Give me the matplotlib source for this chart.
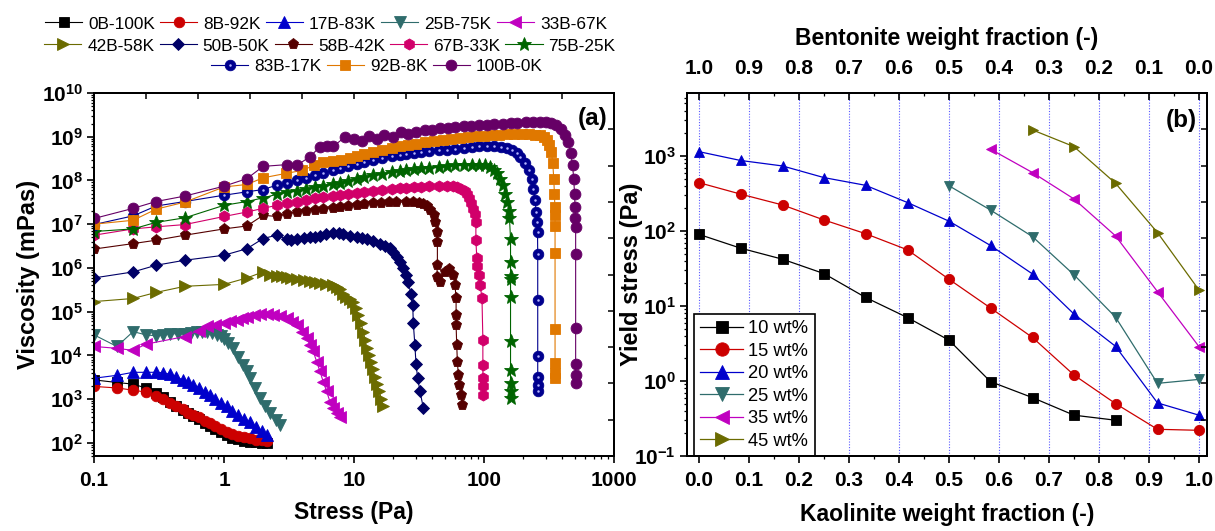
import numpy as np
import matplotlib
matplotlib.use('Agg')
import matplotlib.pyplot as plt
from matplotlib.ticker import (FixedLocator, FuncFormatter, LogLocator, NullFormatter,
                               MultipleLocator, NullLocator)
from matplotlib.legend_handler import HandlerTuple

plt.rcParams['font.family'] = ['Liberation Sans', 'DejaVu Sans']
plt.rcParams['font.weight'] = 'bold'
plt.rcParams['axes.labelweight'] = 'bold'
plt.rcParams['mathtext.fontset'] = 'custom'
plt.rcParams['mathtext.rm'] = 'Liberation Sans'
plt.rcParams['mathtext.bf'] = 'Liberation Sans:bold'
plt.rcParams['mathtext.it'] = 'Liberation Sans:italic'

# ---------------- Panel (a) data: viscosity (mPas) vs stress (Pa) ----------------
names_a = ['0B-100K', '8B-92K', '17B-83K', '25B-75K', '33B-67K',
           '42B-58K', '50B-50K', '58B-42K', '67B-33K', '75B-25K',
           '83B-17K', '92B-8K', '100B-0K']

stress_low = [0.1, 0.15, 0.2, 0.25, 0.3, 0.34, 0.385, 0.43, 0.48, 0.53,
              0.58, 0.64, 0.71, 0.78, 0.86, 0.95, 1.05, 1.16, 1.28, 1.42,
              1.58, 1.76, 1.95, 2.13]
visc_0B = [2750, 2400, 2200, 1800, 1400, 1120, 870, 710, 575, 480,
           410, 350, 280, 240, 205, 178, 150, 132, 120, 112,
           105, 102, 100, 98]
visc_8B = [1950, 1800, 1600, 1450, 1150, 980, 810, 690, 590, 490,
           435, 380, 316, 280, 245, 210, 180, 158, 145, 135,
           126, 118, 115, 112]
visc_17B = [3000, 3500, 4100, 4100, 4100, 4000, 3700, 3250, 2750, 2400,
            2150, 1780, 1480, 1230, 1000, 800, 680, 525, 425, 350,
            295, 235, 185, 150]

stress_25B = [0.1, 0.15, 0.2, 0.25, 0.3, 0.34, 0.385, 0.44, 0.5, 0.56,
              0.62, 0.68, 0.74, 0.81, 0.88, 0.94, 1.0, 1.08, 1.18, 1.29,
              1.41, 1.5, 1.58, 1.73, 1.89, 2.07, 2.27, 2.49, 2.7]
visc_25B = [29500, 16000, 35000, 29500, 28000, 30000, 31600, 31000, 31600, 33000,
            34000, 34000, 34000, 32000, 30000, 27500, 24000, 19000, 14500, 9300,
            6000, 4300, 3000, 1800, 1050, 680, 480, 340, 260]

stress_33B = [0.1, 0.15, 0.2, 0.25, 0.5, 0.64, 0.74, 0.86, 1.0, 1.12,
              1.25, 1.38, 1.5, 1.7, 1.89, 2.13, 2.39, 2.69, 3.03, 3.35,
              3.62, 3.96, 4.33, 4.6, 4.86, 5.16, 5.47, 5.8, 6.16, 6.53,
              6.93, 7.35, 7.8]
visc_33B = [16000, 14500, 13000, 18000, 27000, 37000, 46000, 50000, 54000, 60000,
            65000, 70000, 76000, 82000, 87000, 87000, 83000, 79000, 71000, 59000,
            49000, 35000, 25000, 17000, 12300, 7200, 4300, 2500, 1500, 870,
            620, 480, 400]

stress_42B = [0.1, 0.2, 0.3, 0.5, 1.0, 1.5, 2.0, 2.27, 2.54, 2.8,
              3.03, 3.3, 3.62, 4.1, 4.59, 5.0, 5.47, 6.1, 6.93, 7.4,
              7.8, 8.28, 8.75, 9.3, 9.8, 10.3, 10.8, 11.3, 11.8, 12.2,
              12.5, 13.0, 13.4, 14.0, 14.5, 15.1, 15.7, 16.2, 16.8]
visc_42B = [170000, 200000, 275000, 380000, 420000, 590000, 810000, 700000, 660000, 650000,
            630000, 600000, 550000, 530000, 500000, 480000, 450000, 430000, 410000, 370000,
            330000, 260000, 220000, 190000, 170000, 120000, 83000, 55000, 35000, 22000,
            14500, 10000, 7200, 4800, 3200, 2200, 1500, 1000, 680]

stress_50B = [0.1, 0.2, 0.3, 0.5, 1.0, 1.5, 2.0, 2.54, 3.03, 3.3,
              3.62, 4.1, 4.59, 5.0, 5.47, 6.1, 6.93, 7.6, 8.28, 9.3,
              10.5, 11.5, 12.5, 14.0, 15.8, 17.3, 18.9, 20.0, 21.3, 22.6,
              23.9, 25.0, 26.2, 27.3, 28.3, 28.6, 29.4, 30.0, 30.9, 32.2,
              34.1]
visc_50B = [5.9e5, 8.1e5, 1.15e6, 1.5e6, 1.95e6, 2.75e6, 4.7e6, 5.6e6, 4.6e6, 4.4e6,
            4.5e6, 4.8e6, 5.0e6, 5.2e6, 5.5e6, 6.0e6, 6.3e6, 6.3e6, 6.0e6, 5.5e6,
            5.1e6, 4.9e6, 4.7e6, 4.2e6, 3.6e6, 3.2e6, 2.8e6, 2.3e6, 1.8e6, 1.35e6,
            9.8e5, 7.0e5, 4.8e5, 2.6e5, 1.4e5, 5.4e4, 1.7e4, 6.3e3, 3.0e3, 1.5e3,
            640]

stress_58B = [0.1, 0.2, 0.3, 0.5, 1.0, 1.5, 2.0, 2.54, 3.03, 3.62,
              4.3, 5.0, 5.8, 6.9, 7.8, 9.0, 10.5, 12.0, 14.0, 16.0,
              18.5, 21.0, 25.3, 28.5, 31.5, 34.0, 36.5, 38.6, 40.9, 42.0,
              43.3, 43.8, 43.8, 43.3, 45.9, 50.2, 54.1, 58.0, 59.8, 61.0,
              61.0, 61.0, 61.7, 62.4, 63.5, 64.6, 66.2, 68.1]
visc_58B = [2.7e6, 3.6e6, 4.3e6, 5.6e6, 7.8e6, 9.1e6, 1.6e7, 1.5e7, 1.7e7, 1.9e7,
            2.0e7, 2.1e7, 2.2e7, 2.3e7, 2.5e7, 2.6e7, 2.8e7, 2.9e7, 3.0e7, 3.1e7,
            3.2e7, 3.2e7, 3.2e7, 3.15e7, 3.05e7, 2.95e7, 2.6e7, 2.1e7, 1.6e7, 1.15e7,
            6.8e6, 4.0e6, 1.15e6, 6.3e5, 4.8e5, 8.1e5, 9.3e5, 6.9e5, 4.1e5, 2.0e5,
            8.3e4, 4.9e4, 1.7e4, 7.2e3, 3.5e3, 2.1e3, 1.26e3, 740]

stress_67B = [0.1, 0.2, 0.3, 0.5, 1.0, 1.5, 2.0, 2.54, 3.03, 3.62,
              4.3, 5.0, 5.8, 6.9, 7.8, 9.0, 10.5, 12.0, 14.0, 16.5,
              19.5, 22.5, 25.3, 29.0, 33.0, 38.0, 45.0, 52.0, 58.0, 62.0,
              67.0, 71.0, 74.0, 77.0, 80.0, 83.0, 85.0, 86.6, 86.6, 88.0,
              88.0, 90.9, 93.6, 96.5, 98.0, 98.0, 98.0, 98.0, 98.0]
visc_67B = [5.6e6, 7.8e6, 8.7e6, 9.8e6, 1.5e7, 1.9e7, 2.3e7, 2.7e7, 3.0e7, 3.3e7,
            3.6e7, 3.9e7, 4.2e7, 4.4e7, 4.6e7, 4.9e7, 5.2e7, 5.4e7, 5.6e7, 6.0e7,
            6.3e7, 6.6e7, 6.7e7, 7.0e7, 7.2e7, 7.4e7, 7.6e7, 7.6e7, 7.4e7, 7.1e7,
            6.5e7, 5.7e7, 5.0e7, 4.0e7, 3.0e7, 2.2e7, 1.7e7, 1.1e7, 4.3e6, 1.7e6,
            1.1e6, 6.9e5, 4.0e5, 2.0e5, 2.3e4, 6.0e3, 3.0e3, 1.95e3, 1.26e3]

stress_75B = [0.1, 0.2, 0.3, 0.5, 1.0, 1.5, 2.0, 2.54, 3.03, 3.62,
              4.3, 5.0, 5.8, 6.9, 7.8, 9.0, 10.5, 12.0, 14.0, 16.5,
              19.5, 22.5, 25.3, 29.0, 33.0, 38.0, 45.0, 52.0, 60.0, 70.0,
              81.0, 92.0, 102.0, 112.0, 120.0, 125.0, 133.0, 140.0, 146.0, 151.0,
              155.0, 157.0, 160.0, 160.0, 160.0, 160.0, 160.0, 160.0, 160.0, 160.0,
              160.0, 160.0]
visc_75B = [6.8e6, 7.8e6, 1.1e7, 1.4e7, 2.7e7, 3.3e7, 4.0e7, 4.8e7, 5.5e7, 5.8e7,
            6.3e7, 7.0e7, 7.6e7, 8.3e7, 8.9e7, 9.8e7, 1.1e8, 1.2e8, 1.3e8, 1.4e8,
            1.55e8, 1.65e8, 1.7e8, 1.8e8, 1.9e8, 1.95e8, 2.0e8, 2.1e8, 2.2e8, 2.25e8,
            2.3e8, 2.3e8, 2.25e8, 2.0e8, 1.7e8, 1.45e8, 1.1e8, 7.8e7, 5.0e7, 3.2e7,
            2.0e7, 1.35e7, 4.7e6, 1.4e6, 6.6e5, 5.5e5, 2.2e5, 2.1e4, 4.7e3, 2.3e3,
            1.5e3, 1.05e3]

stress_83B = [0.1, 0.2, 0.3, 0.5, 1.0, 1.5, 2.0, 2.54, 3.03, 3.62,
              4.3, 5.0, 5.8, 6.9, 7.8, 9.0, 10.5, 12.0, 14.0, 16.5,
              19.5, 22.5, 25.3, 29.0, 33.0, 38.0, 45.0, 52.0, 60.0, 70.0,
              81.0, 92.0, 105.0, 120.0, 135.0, 150.0, 164.0, 178.0, 190.0, 205.0,
              220.0, 232.0, 240.0, 247.0, 252.0, 256.0, 258.0, 259.0, 259.0, 259.0,
              259.0, 259.0, 259.0]
visc_83B = [9.8e6, 1.55e7, 2.6e7, 3.3e7, 4.6e7, 5.5e7, 6.2e7, 7.8e7, 8.7e7, 1.0e8,
            1.15e8, 1.3e8, 1.5e8, 1.7e8, 1.9e8, 2.1e8, 2.4e8, 2.7e8, 3.0e8, 3.3e8,
            3.6e8, 3.9e8, 4.1e8, 4.3e8, 4.5e8, 4.7e8, 4.9e8, 5.1e8, 5.3e8, 5.6e8,
            5.9e8, 6.0e8, 6.0e8, 6.0e8, 5.9e8, 5.6e8, 4.9e8, 4.2e8, 3.5e8, 2.5e8,
            1.7e8, 1.1e8, 6.5e7, 3.5e7, 1.9e7, 1.1e7, 6.6e6, 2.1e6, 1.8e5, 9.8e3,
            3.2e3, 2.1e3, 1.5e3]

stress_92B = [0.1, 0.2, 0.3, 0.5, 1.0, 1.5, 2.0, 3.0, 4.0, 4.9,
              5.8, 6.9, 8.0, 9.3, 10.5, 12.0, 14.0, 16.5, 19.5, 22.5,
              26.0, 30.0, 35.0, 41.0, 48.0, 56.0, 65.0, 75.0, 87.0, 100.0,
              115.0, 130.0, 150.0, 170.0, 195.0, 220.0, 245.0, 270.0, 290.0, 305.0,
              318.0, 330.0, 338.0, 344.0, 348.0, 351.0, 352.0, 352.0, 352.0, 352.0,
              352.0, 352.0, 352.0]
visc_92B = [1.0e7, 1.23e7, 2.2e7, 3.2e7, 7.1e7, 8.1e7, 1.15e8, 1.45e8, 1.7e8, 2.2e8,
            2.6e8, 2.8e8, 3.0e8, 3.3e8, 3.6e8, 4.0e8, 4.5e8, 5.0e8, 5.5e8, 6.0e8,
            6.5e8, 7.0e8, 7.5e8, 8.0e8, 8.5e8, 9.0e8, 9.5e8, 1.0e9, 1.03e9, 1.06e9,
            1.1e9, 1.12e9, 1.15e9, 1.15e9, 1.15e9, 1.15e9, 1.12e9, 1.08e9, 1.0e9, 8.5e8,
            6.5e8, 4.5e8, 2.5e8, 1.1e8, 5.0e7, 2.5e7, 1.6e7, 9.1e6, 2.2e6, 4.0e4,
            6.6e3, 4.0e3, 3.1e3]

stress_100B = [0.1, 0.2, 0.3, 0.5, 1.0, 1.5, 2.0, 3.03, 3.62, 4.59,
               5.47, 6.2, 6.93, 8.5, 10.0, 11.5, 13.0, 15.0, 17.0, 20.0,
               23.0, 26.0, 30.0, 35.0, 40.0, 46.0, 53.0, 60.0, 70.0, 80.0,
               92.0, 105.0, 120.0, 140.0, 160.0, 180.0, 210.0, 240.0, 270.0, 300.0,
               330.0, 360.0, 390.0, 420.0, 445.0, 465.0, 480.0, 490.0, 497.0, 502.0,
               505.0, 507.0, 507.0, 507.0, 507.0, 507.0, 507.0]
visc_100B = [1.35e7, 2.3e7, 3.3e7, 4.4e7, 7.4e7, 1.1e8, 2.1e8, 2.3e8, 2.2e8, 3.5e8,
             5.9e8, 6.0e8, 6.0e8, 9.8e8, 8.9e8, 7.9e8, 1.05e9, 8.9e8, 1.1e9, 1.0e9,
             1.26e9, 1.17e9, 1.3e9, 1.4e9, 1.4e9, 1.6e9, 1.6e9, 1.65e9, 1.75e9, 1.8e9,
             1.85e9, 1.9e9, 1.95e9, 2.0e9, 2.05e9, 2.1e9, 2.15e9, 2.15e9, 2.2e9, 2.15e9,
             2.1e9, 1.85e9, 1.5e9, 1.1e9, 7.5e8, 4.2e8, 2.2e8, 1.1e8, 5.0e7, 2.5e7,
             1.4e7, 8.7e6, 2.1e6, 4.2e4, 6.3e3, 3.5e3, 2.3e3]

# ---------------- Panel (b) data: yield stress (Pa) vs kaolinite fraction ----------------
kaolinite = [0.0, 0.083, 0.167, 0.25, 0.333, 0.417, 0.5, 0.583, 0.667, 0.75, 0.833, 0.917, 1.0]
names_b = ['10 wt%', '15 wt%', '20 wt%', '25 wt%', '35 wt%', '45 wt%']
yield_10 = [90, 59, 42, 27, 13, 7.0, 3.5, 0.98, 0.6, 0.35, 0.30]
yield_15 = [440, 310, 222, 140, 92, 56, 22.7, 9.4, 3.8, 1.2, 0.50, 0.227, 0.22]
yield_20 = [1140, 870, 735, 514, 406, 239, 135, 64, 26.7, 7.8, 2.9, 0.51, 0.35]
yield_25 = [400, 190, 84, 26, 7.1, 0.93, 1.05]
yield_35 = [1230, 600, 267, 86, 15.5, 2.87]
yield_45 = [2220, 1330, 432, 95, 16.3]
start_b = [0, 0, 0, 6, 7, 8]

bentonite_ticks = [0.0, 0.1, 0.2, 0.3, 0.4, 0.5, 0.6, 0.7, 0.8, 0.9, 1.0]

# ---------------- styles ----------------
col_a = ['#000000', '#cc0000', '#0000cc', '#2f6c6c', '#c000c0',
         '#6b6b00', '#000066', '#550000', '#d1006a', '#006400',
         '#00008e', '#e07800', '#660066']
mk_a = ['s', 'o', '^', 'v', '<', '>', 'D', 'p', 'h', '*', 'o', 's', 'o']
ms_a = [6.8, 7.6, 8.0, 8.0, 8.0, 8.0, 6.2, 8.0, 8.0, 10.5, 7.6, 6.8, 7.8]
col_b = ['#000000', '#cc0000', '#0000cc', '#2f6c6c', '#c000c0', '#6b6b00']
mk_b = ['s', 'o', '^', 'v', '<', '>']
ms_b = [6.8, 7.4, 7.8, 7.8, 7.8, 7.8]

stress_a = [stress_low, stress_low, stress_low, stress_25B, stress_33B, stress_42B,
            stress_50B, stress_58B, stress_67B, stress_75B, stress_83B, stress_92B, stress_100B]
visc_a = [visc_0B, visc_8B, visc_17B, visc_25B, visc_33B, visc_42B, visc_50B,
          visc_58B, visc_67B, visc_75B, visc_83B, visc_92B, visc_100B]
yield_b = [yield_10, yield_15, yield_20, yield_25, yield_35, yield_45]

W, H = 1215, 531
fig = plt.figure(figsize=(W / 100, H / 100), dpi=100)
fig.patch.set_facecolor('white')
axa = fig.add_axes([94 / W, 1 - 456 / H, 520 / W, 363 / H])
axb = fig.add_axes([687 / W, 1 - 456 / H, 520 / W, 363 / H])

SPW = 1.4
TICKFS = 15


def pow_fmt(v, p):
    e = int(round(np.log10(v)))
    return r'$\mathbf{10^{%d}}$' % e


# ---------------- panel (a) ----------------
handles_a = []
for i in range(13):
    ln, = axa.plot(stress_a[i], visc_a[i], color=col_a[i], marker=mk_a[i], ms=ms_a[i],
                   mfc=col_a[i], mec=col_a[i], mew=0.6, lw=0.8)
    if names_a[i] == '83B-17K':
        hl, = axa.plot(stress_a[i], visc_a[i], ls='none', marker='o', ms=1.8,
                       mfc='#b4b4ff', mec='none')
        handles_a.append((ln, hl))
    else:
        handles_a.append(ln)

axa.set_xscale('log')
axa.set_yscale('log')
axa.set_xlim(0.1, 1000)
axa.set_ylim(50, 1e10)
axa.xaxis.set_major_locator(FixedLocator([0.1, 1, 10, 100, 1000]))
axa.xaxis.set_major_formatter(FuncFormatter(lambda v, p: {0.1: '0.1', 1: '1', 10: '10', 100: '100', 1000: '1000'}.get(round(v, 1), '')))
axa.xaxis.set_minor_locator(LogLocator(base=10, subs=np.arange(2, 10), numticks=100))
axa.xaxis.set_minor_formatter(NullFormatter())
axa.yaxis.set_major_locator(FixedLocator([10.0 ** k for k in range(2, 11)]))
axa.yaxis.set_major_formatter(FuncFormatter(pow_fmt))
axa.yaxis.set_minor_locator(LogLocator(base=10, subs=np.arange(2, 10), numticks=100))
axa.yaxis.set_minor_formatter(NullFormatter())
axa.tick_params(which='major', direction='out', length=5, width=1.2, labelsize=TICKFS,
                top=False, right=False)
axa.tick_params(which='minor', direction='out', length=2.5, width=0.9, top=False, right=False)
axa.tick_params(axis='x', which='major', pad=6)
axa.tick_params(axis='y', which='major', pad=3)
for s in axa.spines.values():
    s.set_linewidth(SPW)
axa.set_xlabel('Stress (Pa)', fontsize=16.5, fontweight='bold')
axa.xaxis.set_label_coords(0.5, -(501 - 456) / 363)
axa.set_ylabel('Viscosity (mPas)', fontsize=17, fontweight='bold')
axa.yaxis.set_label_coords(-(94 - 40) / 520, 0.5)
axa.text(0.988, 0.962, '(a)', transform=axa.transAxes, ha='right', va='top',
         fontsize=17.5, fontweight='bold')

ta = axa.twiny()
ta.set_xlim(0, 10)
ta.xaxis.set_major_locator(FixedLocator(list(range(11))))
ta.xaxis.set_minor_locator(NullLocator())
ta.tick_params(axis='x', direction='in', length=4, width=1.1, labeltop=False)
ra = axa.twinx()
ra.set_ylim(0, 10)
ra.yaxis.set_major_locator(FixedLocator(list(range(11))))
ra.yaxis.set_minor_locator(NullLocator())
ra.tick_params(axis='y', direction='in', length=4, width=1.1, labelright=False)
for t in (ta, ra):
    for s in t.spines.values():
        s.set_linewidth(SPW)

# legend rows above panel (a)
rows = [(range(0, 5), 326, 24), (range(5, 10), 330, 46), (range(10, 13), 377, 66)]
for idx, cx, cy in rows:
    hs = [handles_a[i] for i in idx]
    ls = [names_a[i] for i in idx]
    fig.legend(hs, ls, loc='center', bbox_to_anchor=(cx / W, 1 - cy / H), ncol=len(hs),
               frameon=False, prop={'size': 12.4, 'weight': 'normal'}, handlelength=2.15,
               handletextpad=0.35, columnspacing=0.3, borderpad=0, borderaxespad=0,
               markerscale=1.0, handler_map={tuple: HandlerTuple(ndivide=1, pad=0)})

# ---------------- panel (b) ----------------
handles_b = []
for i in range(6):
    xs = kaolinite[start_b[i]:start_b[i] + len(yield_b[i])]
    ln, = axb.plot(xs, yield_b[i], color=col_b[i], marker=mk_b[i], ms=ms_b[i],
                   mfc=col_b[i], mec=col_b[i], mew=0.6, lw=0.9, zorder=3)
    handles_b.append(ln)

axb.set_yscale('log')
axb.set_xlim(-0.024, 1.016)
axb.set_ylim(0.1, 6900)
axb.xaxis.set_major_locator(MultipleLocator(0.1))
axb.xaxis.set_minor_locator(MultipleLocator(0.05))
axb.xaxis.set_major_formatter(FuncFormatter(lambda v, p: '%.1f' % abs(v)))
axb.yaxis.set_major_locator(FixedLocator([0.1, 1, 10, 100, 1000]))
axb.yaxis.set_major_formatter(FuncFormatter(pow_fmt))
axb.yaxis.set_minor_locator(LogLocator(base=10, subs=np.arange(2, 10), numticks=100))
axb.yaxis.set_minor_formatter(NullFormatter())
axb.tick_params(which='major', direction='out', length=5, width=1.2, labelsize=TICKFS,
                top=False, right=False)
axb.tick_params(which='minor', direction='out', length=2.5, width=0.9, top=False, right=False)
axb.tick_params(axis='x', which='major', pad=6)
axb.tick_params(axis='y', which='major', pad=3)
axb.grid(True, axis='x', which='major', color='#5a5aff', ls=(0, (1, 1.5)), lw=0.8)
axb.set_axisbelow(True)
for s in axb.spines.values():
    s.set_linewidth(SPW)
axb.set_xlabel('Kaolinite weight fraction (-)', fontsize=16.5, fontweight='bold')
axb.xaxis.set_label_coords(0.5, -(503 - 456) / 363)
axb.set_ylabel('Yield stress (Pa)', fontsize=17, fontweight='bold')
axb.yaxis.set_label_coords(-(687 - 643) / 520, 0.5)
axb.text(0.981, 0.955, '(b)', transform=axb.transAxes, ha='right', va='top',
         fontsize=17.5, fontweight='bold')

tb = axb.twiny()
tb.set_xlim(1.024, -0.016)
tb.xaxis.set_major_locator(FixedLocator(bentonite_ticks))
tb.xaxis.set_minor_locator(MultipleLocator(0.05))
tb.xaxis.set_major_formatter(FuncFormatter(lambda v, p: '%.1f' % abs(v)))
tb.tick_params(axis='x', which='major', direction='in', length=5, width=1.2,
               labelsize=TICKFS, pad=11)
tb.tick_params(axis='x', which='minor', direction='in', length=2.5, width=0.9)
tb.set_xlabel('Bentonite weight fraction (-)', fontsize=16.5, fontweight='bold', labelpad=10)
rb = axb.twinx()
rb.set_ylim(0, 10)
rb.yaxis.set_major_locator(FixedLocator(list(range(11))))
rb.yaxis.set_minor_locator(NullLocator())
rb.tick_params(axis='y', direction='in', length=4, width=1.1, labelright=False)
for t in (tb, rb):
    for s in t.spines.values():
        s.set_linewidth(SPW)

legb = axb.legend(handles_b, names_b, loc='lower left', bbox_to_anchor=(7 / 520, 0),
                  borderaxespad=0, frameon=True, fancybox=False, edgecolor='black',
                  framealpha=1, prop={'size': 13.2, 'weight': 'normal'}, handlelength=2.3,
                  handletextpad=0.3, labelspacing=0.3, borderpad=0.35, markerscale=1.3)
legb.get_frame().set_linewidth(1.2)
legb.set_zorder(10)

fig.savefig('out.png', dpi=100, facecolor='white')
